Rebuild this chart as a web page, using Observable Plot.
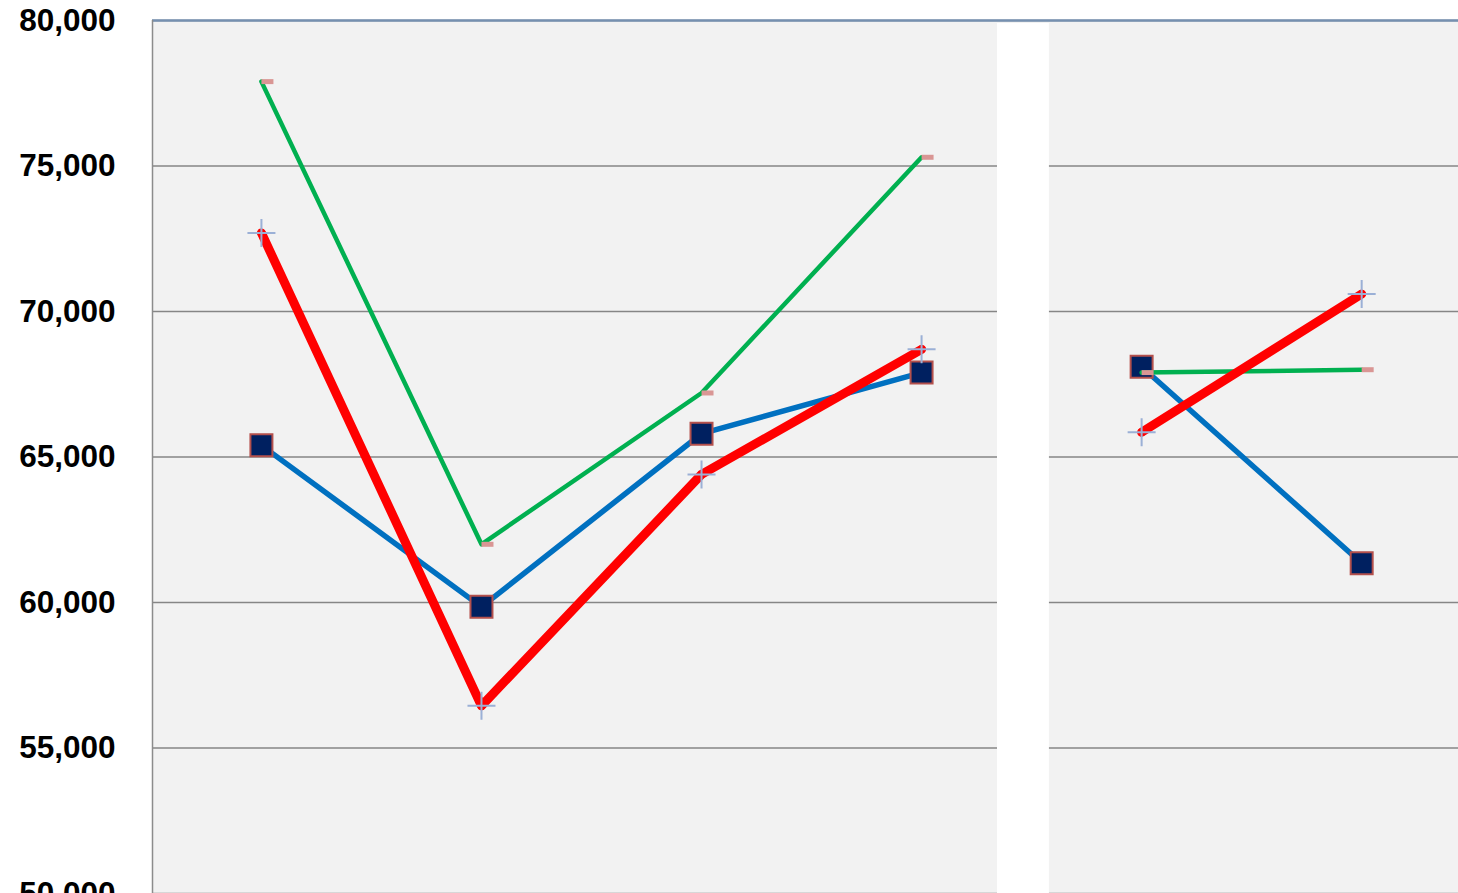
<!DOCTYPE html>
<html>
<head>
<meta charset="utf-8">
<script src="https://cdn.jsdelivr.net/npm/d3@7"></script>
<script src="https://cdn.jsdelivr.net/npm/@observablehq/plot@0.6"></script>
<style>
  html, body { margin: 0; padding: 0; background: #fff; overflow: hidden; }
  #chart svg { display: block; }
</style>
</head>
<body>
<div id="chart"></div>
<script>
// Category positions (no category labels shown), segments break across the gap
const categories = [0, 1, 2, 3, 4, 5];
const segments = ["left", "left", "left", "left", "right", "right"];
const blueValues = [65400, 59850, 65800, 67900, 68100, 61350];
const redValues = [72700, 56450, 64400, 68700, 65850, 70600];
const greenValues = [77900, 62000, 67200, 75300, 67900, 68000];
const yTicks = [50000, 55000, 60000, 65000, 70000, 75000, 80000];
const gapBand = [{x1: 3.345, x2: 3.581}];

const toRows = (vals) => categories.map((c, i) => ({x: c, y: vals[i], seg: segments[i]}));
const blue = toRows(blueValues);
const red = toRows(redValues);
const green = toRows(greenValues);

const squareSym = {draw(ctx) { ctx.rect(-11, -11, 22, 22); }};
const crossSym = {draw(ctx) { ctx.moveTo(-14, 0); ctx.lineTo(14, 0); ctx.moveTo(0, -14); ctx.lineTo(0, 14); }};
const dashSym = {draw(ctx) { ctx.rect(0, -2.5, 12, 5); }};
const circleSym = {draw(ctx) { ctx.moveTo(4, 0); ctx.arc(0, 0, 4, 0, 2 * Math.PI); }};

const chart = Plot.plot({
  width: 1458,
  height: 893,
  marginLeft: 152,
  marginRight: 0,
  marginTop: 20,
  marginBottom: 0,
  style: {fontFamily: "'Liberation Sans', Arial, sans-serif", background: "transparent", overflow: "visible"},
  x: {domain: [-0.495, 5.44], axis: null},
  y: {domain: [50000, 80000]},
  marks: [
    Plot.frame({fill: "#f2f2f2", stroke: null}),
    Plot.gridY(yTicks, {stroke: "#868686", strokeOpacity: 1, strokeWidth: 1.5}),
    Plot.rect(gapBand, {x1: "x1", x2: "x2", y1: 50000, y2: 80000, fill: "#ffffff", insetTop: 3}),
    Plot.ruleY([80000], {stroke: "#7690b0", strokeWidth: 2.5}),
    Plot.ruleX([-0.495], {stroke: "#8c8c8c", strokeWidth: 1.5}),
    Plot.axisY(yTicks, {
      tickSize: 0, tickPadding: 37, fontSize: 31.5, fontWeight: "bold", fill: "#000",
      tickFormat: d3.format(","), label: null
    }),
    Plot.line(blue, {x: "x", y: "y", z: "seg", stroke: "#0070c0", strokeWidth: 5.5}),
    Plot.dot(blue, {x: "x", y: "y", symbol: squareSym, fill: "#002060", stroke: "#b4504c", strokeWidth: 2}),
    Plot.line(green, {x: "x", y: "y", z: "seg", stroke: "#00b050", strokeWidth: 4.5}),
    Plot.line(red, {x: "x", y: "y", z: "seg", stroke: "#ff0000", strokeWidth: 9, strokeLinecap: "round"}),
    Plot.dot(green, {x: "x", y: "y", symbol: dashSym, fill: "#d99694", stroke: null}),
    Plot.dot(red, {x: "x", y: "y", symbol: circleSym, fill: "#ff0000", stroke: null}),
    Plot.dot(red, {x: "x", y: "y", symbol: crossSym, fill: "none", stroke: "#9bb0d6", strokeWidth: 2})
  ]
});
document.getElementById("chart").appendChild(chart);
</script>
</body>
</html>
